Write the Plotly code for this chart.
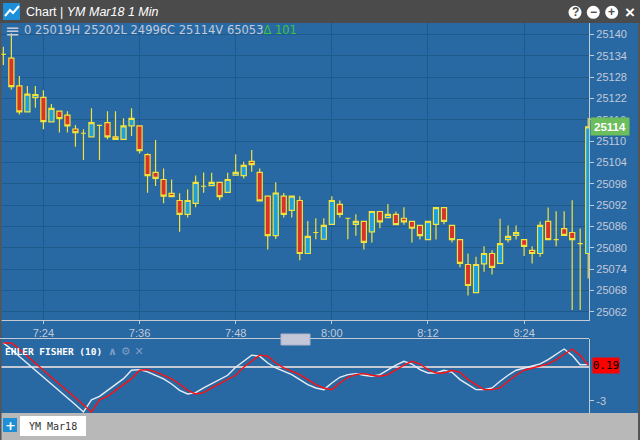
import pandas as pd
import plotly.graph_objects as go

# 1-minute bars, YM Mar18, 7:19 .. 8:32
opens = [25134.4, 25133.3, 25125.5, 25118.2, 25122.2, 25122.3, 25115.4, 25118.4, 25117.3, 25113.4,
         25112.2, 25111.2, 25114.4, 25115.2, 25111.2, 25110.5, 25114.3, 25114.3, 25106.2, 25101.2,
         25099.2, 25095.3, 25093.3, 25089.4, 25092.5, 25097.3, 25097.5, 25098.4, 25095.6, 25100.4,
         25100.3, 25104.3, 25101.2, 25094.5, 25083.4, 25094.5, 25090.5, 25093.3, 25078.4, 25084.3,
         25082.4, 25086.6, 25092.2, 25088.3, 25086.6, 25087.4, 25084.5, 25090.2, 25088.5, 25089.4,
         25088.3, 25087.4, 25086.3, 25082.3, 25086.6, 25091.3, 25086.3, 25082.3, 25075.3, 25067.4,
         25075.5, 25078.4, 25075.6, 25082.3, 25083.5, 25082.3, 25079.3, 25078.4, 25087.4, 25082.3,
         25085.4, 25084.3, 25081.2, 25078.4]
highs = [25136.5, 25140.3, 25128.3, 25125.5, 25125.5, 25124.3, 25120.4, 25118.6, 25118.4, 25114.5,
         25113.3, 25119.2, 25114.4, 25118.4, 25118.4, 25116.4, 25119.2, 25114.3, 25106.6, 25110.3,
         25102.3, 25099.2, 25095.3, 25096.4, 25100.3, 25101.2, 25101.1, 25098.4, 25101.1, 25106.3,
         25104.2, 25107.5, 25102.3, 25094.5, 25098.4, 25095.4, 25094.5, 25094.5, 25087.5, 25088.3,
         25088.3, 25094.5, 25093.3, 25088.3, 25089.4, 25087.4, 25090.2, 25090.2, 25092.3, 25090.2,
         25091.4, 25087.4, 25086.3, 25087.4, 25091.3, 25091.3, 25086.3, 25082.3, 25078.4, 25077.5,
         25080.4, 25079.3, 25088.2, 25086.3, 25086.3, 25082.3, 25080.4, 25087.4, 25091.3, 25090.3,
         25090.3, 25093.4, 25085.4, 25116.5]
lows = [25131.4, 25124.5, 25117.5, 25118.2, 25119.4, 25113.3, 25115.4, 25112.4, 25112.4, 25108.4,
        25104.7, 25111.2, 25104.7, 25110.5, 25110.5, 25110.5, 25111.4, 25106.5, 25095.5, 25097.4,
        25092.5, 25094.4, 25084.5, 25088.5, 25091.4, 25095.5, 25097.5, 25093.4, 25095.6, 25100.4,
        25099.5, 25101.4, 25093.2, 25079.5, 25082.5, 25088.5, 25088.5, 25076.5, 25078.4, 25082.4,
        25082.4, 25086.6, 25088.5, 25082.4, 25083.4, 25079.5, 25081.5, 25085.5, 25088.5, 25086.5,
        25086.5, 25081.5, 25082.3, 25082.3, 25082.3, 25086.6, 25081.5, 25074.5, 25066.6, 25067.4,
        25073.3, 25072.5, 25075.6, 25081.5, 25082.3, 25077.7, 25075.6, 25077.5, 25082.3, 25080.4,
        25083.5, 25062.5, 25062.5, 25071.4]
closes = [25134.4, 25125.3, 25118.2, 25123.2, 25123.1, 25115.5, 25119.2, 25116.3, 25114.3, 25112.4,
          25112.2, 25115.2, 25114.4, 25111.2, 25110.5, 25114.3, 25116.4, 25107.3, 25100.3, 25099.5,
          25094.5, 25094.4, 25089.4, 25093.3, 25098.4, 25097.3, 25098.4, 25094.4, 25099.2, 25101.2,
          25103.2, 25103.4, 25093.2, 25083.4, 25095.4, 25089.4, 25094.5, 25078.4, 25083.2, 25084.3,
          25086.3, 25093.3, 25089.4, 25088.3, 25087.4, 25081.5, 25090.2, 25087.3, 25089.4, 25086.5,
          25087.3, 25085.5, 25083.4, 25087.4, 25091.3, 25087.4, 25082.3, 25075.6, 25069.4, 25075.3,
          25078.4, 25074.5, 25081.2, 25083.2, 25084.3, 25080.4, 25078.4, 25086.3, 25082.3, 25082.3,
          25083.5, 25082.3, 25081.2, 25114.0]

# Ehler Fisher (10): fisher line and trigger line
fisher = [2.18, 1.63, 0.97, 0.36, -0.27, -0.90, -1.50, -2.13, -2.73, -3.36,
          -4.02, -2.92, -2.61, -2.10, -1.56, -1.02, -0.27, -0.21, -0.42, -0.72,
          -1.05, -1.50, -2.07, -2.40, -2.28, -1.86, -1.47, -1.11, -0.72, 0.00,
          0.54, 1.09, 0.99, 0.38, -0.06, -0.36, -0.66, -1.11, -1.56, -1.86,
          -2.01, -1.41, -0.90, -0.66, -0.57, -0.72, -0.81, -0.66, -0.21, 0.20,
          0.54, 0.29, -0.21, -0.51, -0.51, -0.27, -0.45, -1.11, -1.56, -2.01,
          -2.01, -1.86, -1.26, -0.72, -0.27, -0.06, 0.09, 0.30, 0.69, 1.14,
          1.64, 1.07, 0.22, 0.24]
trigger = [2.18, 2.18, 1.63, 0.97, 0.36, -0.27, -0.90, -1.50, -2.13, -2.73,
           -3.36, -4.02, -2.92, -2.61, -2.10, -1.56, -1.02, -0.27, -0.21, -0.42,
           -0.72, -1.05, -1.50, -2.07, -2.40, -2.28, -1.86, -1.47, -1.11, -0.72,
           0.00, 0.54, 1.09, 0.99, 0.38, -0.06, -0.36, -0.66, -1.11, -1.56,
           -1.86, -2.01, -1.41, -0.90, -0.66, -0.57, -0.72, -0.81, -0.66, -0.21,
           0.20, 0.54, 0.29, -0.21, -0.51, -0.51, -0.27, -0.45, -1.11, -1.56,
           -2.01, -2.01, -1.86, -1.26, -0.72, -0.27, -0.06, 0.09, 0.30, 0.69,
           1.14, 1.64, 1.07, 0.19]

times = pd.date_range("2018-01-01 07:19", periods=len(opens), freq="min")
tick_times = ["2018-01-01 07:24", "2018-01-01 07:36", "2018-01-01 07:48",
              "2018-01-01 08:00", "2018-01-01 08:12", "2018-01-01 08:24"]
tick_labels = ["7:24", "7:36", "7:48", "8:00", "8:12", "8:24"]
header = "0 25019H 25202L 24996C 25114V 65053"
last_price = 25114
last_trigger = 0.19

W, H = 640, 440
BG = "#2868a3"
GRID = "#1f5a8d"
AXIS = "#c3cad6"
LBL = "#c3cad8"
YEL = "#f2e23a"


def px(x):
    return x / W


def py(y):
    return 1 - y / H


fig = go.Figure()
fig.add_trace(go.Candlestick(
    x=times, open=opens, high=highs, low=lows, close=closes,
    increasing=dict(line=dict(color=YEL, width=1.2), fillcolor="#1a9fe0"),
    decreasing=dict(line=dict(color=YEL, width=1.2), fillcolor="#d8322a"),
    xaxis="x", yaxis="y", showlegend=False, hoverinfo="skip"))
fig.add_trace(go.Scatter(x=times, y=fisher, mode="lines", line=dict(color="#e6edf5", width=1.4),
                         xaxis="x2", yaxis="y2", showlegend=False))
fig.add_trace(go.Scatter(x=times, y=trigger, mode="lines", line=dict(color="#ff1010", width=1.4),
                         xaxis="x2", yaxis="y2", showlegend=False))

x_range = [times[0] - pd.Timedelta(seconds=25), times[0] + pd.Timedelta(seconds=73.1 * 60)]

shapes = [
    # title bar
    dict(type="rect", xref="paper", yref="paper", x0=0, x1=1, y0=py(23), y1=1,
         fillcolor="#4b4b4b", line_width=0, layer="above"),
    dict(type="rect", xref="paper", yref="paper", x0=px(3), x1=px(20), y0=py(20), y1=py(3),
         fillcolor="#1c8fd8", line_width=0, layer="above"),
    dict(type="path", xref="paper", yref="paper",
         path="M %f,%f L %f,%f L %f,%f L %f,%f" % (px(5), py(16), px(10), py(10), px(13), py(13), px(19), py(6)),
         line=dict(color="white", width=2), layer="above"),
    # bottom tab bar
    dict(type="rect", xref="paper", yref="paper", x0=0, x1=1, y0=0, y1=py(413),
         fillcolor="#b8b8b8", line_width=0, layer="above"),
    dict(type="rect", xref="paper", yref="paper", x0=px(3), x1=px(17), y0=py(432), y1=py(418),
         fillcolor="#1c8fd8", line_width=0, layer="above"),
    dict(type="rect", xref="paper", yref="paper", x0=px(20), x1=px(86), y0=py(436), y1=py(416),
         fillcolor="white", line_width=0, layer="above"),
    # window edges
    dict(type="rect", xref="paper", yref="paper", x0=0, x1=px(1.5), y0=py(440), y1=py(23),
         fillcolor="#555555", line_width=0, layer="above"),
    dict(type="rect", xref="paper", yref="paper", x0=px(638), x1=1, y0=py(440), y1=py(23),
         fillcolor="#555555", line_width=0, layer="above"),
    # panel borders
    dict(type="line", xref="paper", yref="paper", x0=0, x1=px(589), y0=py(338.5), y1=py(338.5),
         line=dict(color=AXIS, width=1.2), layer="above"),
    dict(type="rect", xref="paper", yref="paper", x0=px(281), x1=px(310), y0=py(345), y1=py(334),
         fillcolor="#c3c7d7", line=dict(color="#aeb3c6", width=1), layer="above"),
]
for cx in [575, 593.3, 611.7]:
    shapes.append(dict(type="circle", xref="paper", yref="paper", x0=px(cx - 6.5), x1=px(cx + 6.5),
                       y0=py(18.8), y1=py(5.8), fillcolor="white", line_width=0, layer="above"))

annotations = [
    dict(x=px(24), y=py(12), xref="paper", yref="paper", xanchor="left", yanchor="middle", showarrow=False,
         text="Chart | <i>YM Mar18 1 Min</i>", font=dict(family="Liberation Sans", size=12.5, color="white")),
    dict(x=px(3), y=py(31), xref="paper", yref="paper", xanchor="left", yanchor="middle", showarrow=False,
         text="\u2261", font=dict(family="DejaVu Sans", size=18, color=LBL)),
    dict(x=px(22), y=py(30), xref="paper", yref="paper", xanchor="left", yanchor="middle", showarrow=False,
         text=header + "<span style='color:#3ec43e'>\u0394 101</span>",
         font=dict(family="DejaVu Sans", size=11.5, color=LBL)),
    dict(x=px(590), y=last_price, xref="paper", yref="y", xanchor="left", yanchor="middle", showarrow=False,
         text="<b>%d</b>" % last_price, bgcolor="#6cbd5b", width=38, height=17, borderpad=0,
         font=dict(family="Liberation Sans", size=11.5, color="white")),
    dict(x=px(591.5), y=last_trigger, xref="paper", yref="y2", xanchor="left", yanchor="middle",
         showarrow=False, text="0.19", bgcolor="#ff0000", width=26, height=15, borderpad=0,
         font=dict(family="DejaVu Sans Mono", size=11, color="black")),
    dict(x=px(3), y=py(351), xref="paper", yref="paper", xanchor="left", yanchor="middle", showarrow=False,
         text="<b>EHLER FISHER (10)</b>", font=dict(family="DejaVu Sans Mono", size=9.5, color="white")),
    dict(x=px(106), y=py(351), xref="paper", yref="paper", xanchor="left", yanchor="middle", showarrow=False,
         text="<b>\u2227 \u2699 \u2715</b>", font=dict(family="DejaVu Sans", size=11, color="#7d9cc5")),
    dict(x=px(10), y=py(425), xref="paper", yref="paper", xanchor="center", yanchor="middle", showarrow=False,
         text="<b>+</b>", font=dict(family="DejaVu Sans", size=13, color="white")),
    dict(x=px(53), y=py(426), xref="paper", yref="paper", xanchor="center", yanchor="middle", showarrow=False,
         text="YM Mar18", font=dict(family="DejaVu Sans Mono", size=10, color="#333333")),
]
for cx, sym in zip([575, 593.3, 611.7, 630], ["?", "\u2212", "+", "\u00d7"]):
    col = "white" if sym == "\u00d7" else "#4b4b4b"
    size = 17 if sym == "\u00d7" else 12
    annotations.append(dict(x=px(cx), y=py(12.3), xref="paper", yref="paper", xanchor="center",
                            yanchor="middle", showarrow=False, text="<b>%s</b>" % sym,
                            font=dict(family="Liberation Sans", size=size, color=col)))

fig.update_layout(
    width=W, height=H, margin=dict(l=0, r=0, t=0, b=0),
    paper_bgcolor=BG, plot_bgcolor=BG, boxgap=0.2, boxgroupgap=0.2,
    font=dict(family="Liberation Sans", size=11, color=LBL),
    xaxis=dict(domain=[0, px(589)], anchor="y", range=x_range, rangeslider=dict(visible=False),
               tickvals=tick_times, ticktext=tick_labels, ticks="outside", ticklen=3, tickcolor=AXIS,
               showgrid=True, gridcolor=GRID, gridwidth=1.3, showline=True, linecolor=AXIS, linewidth=1.2,
               tickfont=dict(size=11, color=LBL), fixedrange=True),
    yaxis=dict(domain=[py(320), py(23)], anchor="x", side="right", range=[25059.7, 25143.2],
               tick0=0, dtick=6, ticks="outside", ticklen=4, tickcolor=AXIS, showgrid=True,
               gridcolor=GRID, gridwidth=1.3, zeroline=False, showline=True, linecolor=AXIS,
               linewidth=1.2, tickformat="d", tickfont=dict(size=11, color=LBL)),
    xaxis2=dict(domain=[0, px(589)], anchor="y2", matches="x", showticklabels=False,
                showgrid=False, zeroline=False, showline=False),
    yaxis2=dict(domain=[py(414), py(339)], anchor="x2", side="right", range=[-4.2, 2.54],
                tickvals=[-3], ticktext=["-3"], ticks="outside", ticklen=4, tickcolor=AXIS,
                showgrid=False, zeroline=True, zerolinecolor=AXIS, zerolinewidth=1.5,
                showline=True, linecolor=AXIS, linewidth=1.2, tickfont=dict(size=11, color=LBL)),
    shapes=shapes, annotations=annotations,
)

fig.write_html("out.html", config={"displayModeBar": False},
               post_script="document.body.style.margin='0';document.body.style.overflow='hidden';")
